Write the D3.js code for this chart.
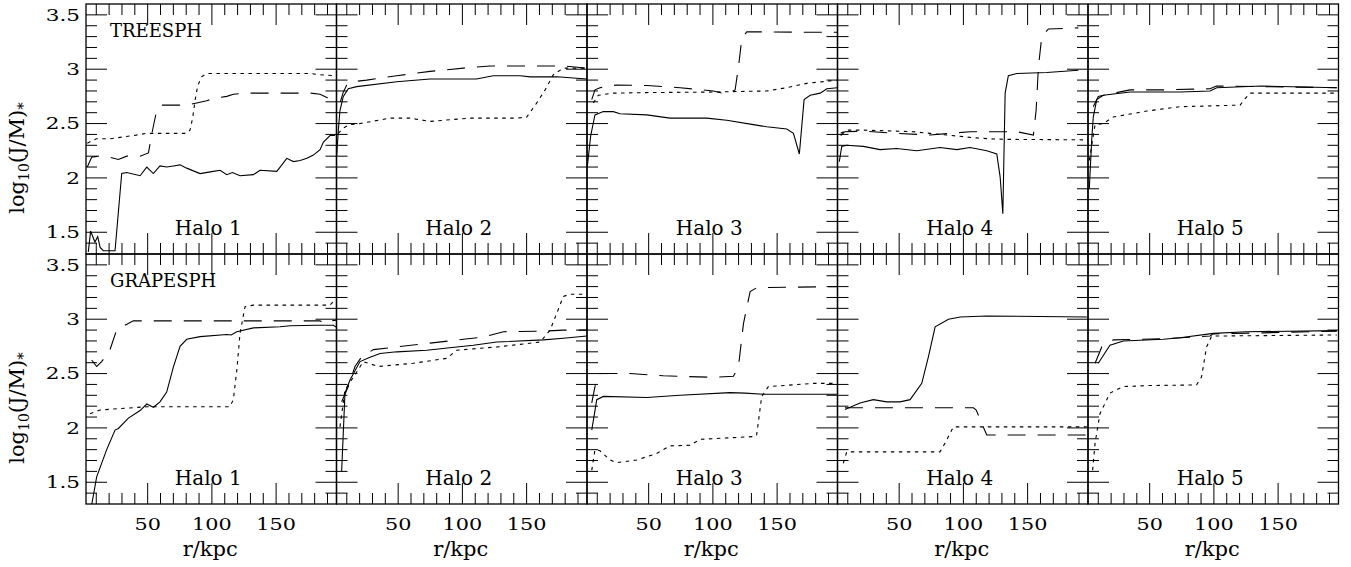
<!DOCTYPE html>
<html>
<head>
<meta charset="utf-8">
<script src="https://cdn.jsdelivr.net/npm/d3@7"></script>
<style>
	body { margin: 0; background: #fff; }
	text { font-family: "DejaVu Serif", "Liberation Serif", serif; fill: #000; }
</style>
</head>
<body>
<script>
// codes (rows) and halos (columns)
var codes = ["TREESPH", "GRAPESPH"];
var halos = ["Halo 1", "Halo 2", "Halo 3", "Halo 4", "Halo 5"];
var xTicks = [50, 100, 150];
var yTicks = [1.5, 2, 2.5, 3, 3.5];
var yTickLabels = ["1.5", "2", "2.5", "3", "3.5"];

// [r/kpc, log10(J/M)*] per halo
var treeSolid = [
	[[3.8,1.32],[5.6,1.51],[9,1.41],[11.1,1.46],[13,1.36],[15.5,1.33],[24.6,1.33],[29.8,2.04],[33.7,2.05],[44.1,2.02],[49.3,2.10],[54.4,2.04],[59.6,2.11],[64.8,2.10],[70,2.11],[75.2,2.12],[80.4,2.09],[90.8,2.04],[101.1,2.06],[106.4,2.07],[111.6,2.03],[116,2.05],[121.9,2.02],[132.3,2.03],[137.5,2.07],[150.5,2.06],[153.1,2.10],[158.3,2.18],[163.5,2.15],[168.7,2.16],[174,2.18],[179,2.21],[184.2,2.26],[186.8,2.33],[192,2.39],[195.9,2.39]],
	[[2.1,2.2],[3.5,2.45],[4.7,2.62],[7.3,2.75],[11.2,2.82],[17.7,2.84],[48.9,2.885],[74.8,2.91],[111,2.91],[124,2.94],[145,2.94],[152.7,2.93],[173.5,2.93],[196.9,2.91]],
	[[2.2,2.10],[4.9,2.39],[8.2,2.58],[14.7,2.61],[22.5,2.61],[27.7,2.59],[48.5,2.58],[66.6,2.55],[95.2,2.55],[110.8,2.53],[131.5,2.49],[141.9,2.47],[157.5,2.45],[162.7,2.41],[167.3,2.22],[171,2.72],[175.7,2.76],[183.5,2.78],[188.7,2.82],[197,2.83]],
	[[3.4,2.15],[5.3,2.29],[9.2,2.30],[22.1,2.29],[35.1,2.26],[48.1,2.27],[63.7,2.25],[81.8,2.28],[94.8,2.26],[105.2,2.28],[118.2,2.25],[126,2.22],[128.6,2.01],[130.7,1.67],[132.5,2.78],[135,2.94],[141.6,2.96],[164.9,2.97],[189.5,2.99]],
	[[3.0,1.90],[4.9,2.35],[6.1,2.56],[8.8,2.72],[13.9,2.76],[34.7,2.79],[73.6,2.79],[97,2.80],[102.2,2.83],[137,2.845],[195.7,2.83]]
];
var treeDashed = [
	[[3,2.10],[6.4,2.19],[12,2.20],[20.7,2.19],[27.2,2.17],[33.7,2.20],[44.1,2.20],[50.6,2.23],[54,2.45],[57,2.62],[61,2.67],[80.4,2.67],[88.2,2.69],[96,2.71],[101.1,2.73],[111.6,2.75],[116.7,2.77],[127.1,2.78],[176.9,2.78],[184.2,2.77],[189.5,2.74],[194,2.73]],
	[[5,2.70],[7,2.78],[10,2.855],[15,2.885],[25.5,2.90],[48.9,2.94],[74.8,2.98],[100.8,3.01],[121.5,3.03],[178.6,3.03],[196.9,3.01]],
	[[5.7,2.72],[8.2,2.81],[12.1,2.83],[25.1,2.855],[48.5,2.85],[61.4,2.84],[74.4,2.83],[100.4,2.80],[110.8,2.77],[117.3,2.81],[119.9,3.02],[122.5,3.28],[126.4,3.345],[178.3,3.34],[197.7,3.34]],
	[[4.5,2.39],[7.7,2.425],[22.1,2.43],[48.1,2.41],[74,2.395],[105.2,2.425],[141.6,2.425],[154.5,2.395],[156.6,2.62],[158.4,3.02],[161,3.30],[166.2,3.37],[189.5,3.38]],
	[[6.1,2.655],[10,2.75],[34.7,2.81],[60.7,2.81],[97,2.82],[102,2.845],[195.7,2.83]]
];
var treeDotted = [
	[[3,2.32],[10,2.36],[20.7,2.36],[39,2.39],[49.3,2.41],[80.4,2.41],[83,2.44],[85,2.55],[87,2.72],[89,2.85],[92,2.93],[96,2.96],[176.9,2.96],[184,2.95],[195,2.94]],
	[[3.4,2.41],[7.3,2.46],[12.5,2.49],[20.3,2.50],[43.7,2.55],[59.3,2.55],[74.8,2.52],[106,2.55],[142.3,2.55],[150.1,2.56],[157.9,2.69],[164.4,2.81],[170.8,2.95],[178.6,3.01],[196.9,3.01]],
	[[6.9,2.69],[10.8,2.76],[22.5,2.78],[48.5,2.785],[100.4,2.79],[141.9,2.80],[157.5,2.83],[173,2.87],[197.7,2.90]],
	[[4.5,2.41],[9.2,2.44],[22.1,2.44],[61,2.425],[74,2.41],[107.8,2.37],[120.8,2.36],[131.2,2.355],[197.2,2.35]],
	[[3,2.16],[7.5,2.49],[13.9,2.50],[21.7,2.56],[47.7,2.615],[73.6,2.655],[120.4,2.67],[124.3,2.73],[128.2,2.78],[195.7,2.78]]
];
var grapeSolid = [
	[[6.4,1.29],[10.3,1.55],[18.1,1.80],[24.6,1.98],[27.2,1.995],[35,2.09],[44.1,2.16],[49.3,2.22],[54.5,2.19],[59.6,2.24],[64.8,2.33],[70,2.56],[75.2,2.75],[80.4,2.815],[90.8,2.84],[111.6,2.86],[115,2.855],[119.4,2.885],[132.3,2.92],[153.1,2.93],[160.9,2.94],[181.6,2.945],[194.6,2.945],[197,2.925]],
	[[6,1.60],[8.6,2.32],[12.5,2.44],[20.3,2.61],[28.1,2.65],[35.9,2.685],[48.9,2.70],[72.2,2.715],[95.6,2.745],[108.5,2.76],[126.8,2.79],[163,2.81],[178.6,2.825],[196.9,2.845]],
	[[5.7,1.98],[9.6,2.26],[14.7,2.29],[48.5,2.28],[74.4,2.30],[113.4,2.325],[125,2.32],[139.3,2.31],[196.4,2.31]],
	[[7.8,2.17],[19.5,2.23],[29.9,2.26],[40.3,2.24],[50.7,2.24],[58.5,2.26],[67.6,2.41],[72.8,2.655],[78,2.93],[88.4,3.0],[97.5,3.02],[118.2,3.03],[196.1,3.02]],
	[[10,2.595],[19.1,2.76],[29.5,2.80],[60.6,2.815],[73.6,2.83],[99.6,2.87],[125.6,2.885],[195.7,2.895]]
];
var grapeDashed = [
	[[6.4,2.625],[10.3,2.565],[14.2,2.61],[20.7,2.72],[25.8,2.90],[32.4,2.945],[38.8,2.985],[184.2,2.985],[188,2.96],[192,2.985],[197,2.99]],
	[[6,2.24],[11.2,2.38],[16.4,2.565],[21.6,2.655],[30.7,2.72],[48.9,2.745],[74.8,2.78],[100.8,2.815],[116.3,2.835],[131.9,2.885],[163,2.89],[178.6,2.90],[196.9,2.90]],
	[[5.7,2.23],[8.2,2.38],[12.1,2.50],[35.5,2.50],[61.4,2.48],[100.4,2.465],[116,2.475],[119.9,2.565],[123.8,2.96],[129,3.255],[134.2,3.29],[196.4,3.30]],
	[[7.8,2.185],[107.8,2.185],[110,2.165],[114.3,2.04],[118.2,1.935],[196.1,1.935]],
	[[7.5,2.595],[12.7,2.745],[21.7,2.81],[60.6,2.82],[97,2.845],[99.6,2.865],[195.7,2.89]]
];
var grapeDotted = [
	[[5.1,2.13],[12.9,2.165],[49.3,2.195],[114,2.195],[116.7,2.26],[119.4,2.53],[121.9,2.87],[125.8,3.115],[132.3,3.13],[192,3.13],[196,3.18]],
	[[4.7,2.01],[8.6,2.35],[16.4,2.49],[22.9,2.61],[34.6,2.565],[61.9,2.595],[87.8,2.64],[95.6,2.715],[126.8,2.745],[160.5,2.79],[168.3,2.90],[178.6,3.21],[183.8,3.23],[196.9,3.23]],
	[[5.7,1.61],[8.2,1.80],[12.1,1.79],[19.9,1.705],[25.1,1.68],[40.7,1.705],[56.3,1.765],[66.6,1.835],[82.2,1.84],[90,1.895],[131.5,1.92],[134,1.93],[138,2.29],[143.2,2.38],[178.3,2.41],[196.4,2.41]],
	[[6.5,1.675],[9.2,1.78],[81.8,1.78],[85.7,1.86],[92.2,2.01],[196.1,2.01]],
	[[5.6,1.61],[7.5,1.86],[11.3,2.13],[19.1,2.32],[29.5,2.38],[50,2.39],[86.5,2.395],[90.4,2.47],[94.3,2.745],[98.2,2.845],[195.7,2.855]]
];

var width = 1351,
		height = 567,
		marginLeft = 86,
		marginTop = 4,
		panelW = 250.5,
		panelH = 250,
		majorLen = 21,
		minorLen = 11;

var rows = [
	{ name: codes[0], series: [treeSolid, treeDashed, treeDotted] },
	{ name: codes[1], series: [grapeSolid, grapeDashed, grapeDotted] }
];
var dashes = [null, "18,12", "3.5,4.5"];

var svg = d3.select("body")
	.append("svg")
	.attr("width", width)
	.attr("height", height);

svg.append("rect")
	.attr("width", width)
	.attr("height", height)
	.style("fill", "#fff");

var minorX = d3.range(10, 200, 10).filter(function (v) { return v % 50 != 0; });
var minorY = d3.range(14, 36, 1).map(function (v) { return v / 10; })
	.filter(function (v) { return yTicks.indexOf(v) < 0; });

rows.forEach(function (row, ri) {
	var y0 = marginTop + ri*panelH;
	var y = d3.scaleLinear().domain([1.3, 3.6]).range([y0 + panelH, y0]);

	halos.forEach(function (halo, hi) {
		var x0 = marginLeft + hi*panelW;
		var x = d3.scaleLinear().domain([2, 197]).range([x0, x0 + panelW]);
		var g = svg.append("g");
		var clipId = "clip" + ri + "_" + hi;

		g.append("clipPath")
			.attr("id", clipId)
			.append("rect")
			.attr("x", x0)
			.attr("y", y0)
			.attr("width", panelW)
			.attr("height", panelH);

		// curves
		var line = d3.line()
			.x(function (d) { return x(d[0]); })
			.y(function (d) { return y(d[1]); });
		row.series.forEach(function (s, si) {
			g.append("path")
				.attr("d", line(s[hi]))
				.attr("clip-path", "url(#" + clipId + ")")
				.style("fill", "none")
				.style("stroke", "#000")
				.style("stroke-width", 1.1)
				.style("stroke-dasharray", dashes[si]);
		});

		// ticks on all four sides
		var xt = xTicks.map(function (v) { return { v: v, len: majorLen }; })
			.concat(minorX.map(function (v) { return { v: v, len: minorLen }; }));
		var yt = yTicks.map(function (v) { return { v: v, len: majorLen }; })
			.concat(minorY.map(function (v) { return { v: v, len: minorLen }; }));

		var ticks = g.append("g")
			.style("stroke", "#000")
			.style("stroke-width", 1);
		ticks.selectAll(".xtb").data(xt).enter().append("line")
			.attr("x1", function (d) { return x(d.v); })
			.attr("x2", function (d) { return x(d.v); })
			.attr("y1", y0 + panelH)
			.attr("y2", function (d) { return y0 + panelH - d.len; });
		ticks.selectAll(".xtt").data(xt).enter().append("line")
			.attr("x1", function (d) { return x(d.v); })
			.attr("x2", function (d) { return x(d.v); })
			.attr("y1", y0)
			.attr("y2", function (d) { return y0 + d.len; });
		ticks.selectAll(".ytl").data(yt).enter().append("line")
			.attr("x1", x0)
			.attr("x2", function (d) { return x0 + d.len; })
			.attr("y1", function (d) { return y(d.v); })
			.attr("y2", function (d) { return y(d.v); });
		ticks.selectAll(".ytr").data(yt).enter().append("line")
			.attr("x1", x0 + panelW)
			.attr("x2", function (d) { return x0 + panelW - d.len; })
			.attr("y1", function (d) { return y(d.v); })
			.attr("y2", function (d) { return y(d.v); });

		g.append("rect")
			.attr("x", x0)
			.attr("y", y0)
			.attr("width", panelW)
			.attr("height", panelH)
			.style("fill", "none")
			.style("stroke", "#000")
			.style("stroke-width", 1.3);

		g.append("text")
			.attr("x", x0 + panelW/2 - 3)
			.attr("y", y0 + 231)
			.attr("text-anchor", "middle")
			.style("font-size", "20px")
			.text(halo);

		// y tick labels, leftmost panel only
		if (hi == 0) {
			g.selectAll(".ylab").data(yTicks).enter().append("text")
				.attr("text-anchor", "end")
				.attr("transform", function (d) {
					return "translate(" + (x0 - 6) + "," + (y(d) + 5.8) + ") scale(1.35,1)";
				})
				.style("font-size", "16px")
				.text(function (d, i) { return yTickLabels[i]; });

			var lab = g.append("text")
				.attr("text-anchor", "middle")
				.attr("transform", "translate(24," + (y0 + 154) + ") rotate(-90)")
				.style("font-size", "21px");
			lab.append("tspan").text("log");
			lab.append("tspan").attr("dy", 5).style("font-size", "14px").text("10");
			lab.append("tspan").attr("dy", -5).text("(J/M)");
			lab.append("tspan").attr("dy", 4).style("font-size", "15px").text("*");

			g.append("text")
				.attr("x", 110)
				.attr("y", y0 + 33)
				.style("font-size", "18px")
				.text(row.name);
		}

		// x tick labels, bottom row only
		if (ri == rows.length - 1) {
			g.selectAll(".xlab").data(xTicks).enter().append("text")
				.attr("text-anchor", "middle")
				.attr("transform", function (d) {
					return "translate(" + x(d) + "," + (y0 + panelH + 26) + ") scale(1.3,1)";
				})
				.style("font-size", "16px")
				.text(function (d) { return d; });

			g.append("text")
				.attr("x", x0 + panelW/2 - 1)
				.attr("y", y0 + panelH + 52)
				.attr("text-anchor", "middle")
				.style("font-size", "21px")
				.text("r/kpc");
		}
	});
});
</script>
</body>
</html>
